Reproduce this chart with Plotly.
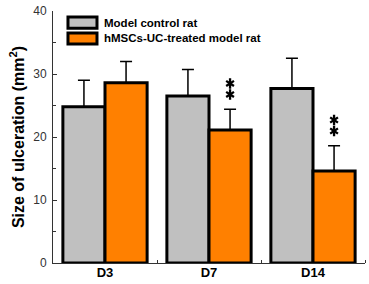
import plotly.graph_objects as go

categories = ["D3", "D7", "D14"]
control_vals = [24.8, 26.5, 27.7]
control_err = [4.2, 4.2, 4.8]
treated_vals = [28.6, 21.1, 14.6]
treated_err = [3.4, 3.3, 4.0]
significance = [0, 2, 2]  # number of asterisks above treated bar
series_names = ["Model control rat", "hMSCs-UC-treated model rat"]
y_ticks = [0, 10, 20, 30, 40]

GRAY = "#C0C0C0"
ORANGE = "#FF8000"
FONT = "Liberation Sans, Arial, sans-serif"
BARGAP = 0.19

pos = list(range(len(categories)))
fig = go.Figure()
for name, vals, err, color in [
    (series_names[0], control_vals, control_err, GRAY),
    (series_names[1], treated_vals, treated_err, ORANGE),
]:
    fig.add_trace(go.Bar(
        x=pos, y=vals, name=name, showlegend=False,
        marker=dict(color=color, line=dict(color="black", width=3)),
        error_y=dict(type="data", symmetric=False, array=err,
                     arrayminus=[0] * len(err), color="black",
                     thickness=1.5, width=6),
    ))

# significance asterisks above the treated bars (6-spoke: y-up + y-down)
offset = (1 - BARGAP) / 4
ax, ay = [], []
for i, n in enumerate(significance):
    top = treated_vals[i] + treated_err[i]
    for k in range(n):
        ax.append(i + offset)
        ay.append(top + 2.35 + 1.75 * k)
for sym in ["y-up-open", "y-down-open"]:
    fig.add_trace(go.Scatter(
        x=ax, y=ay, mode="markers", showlegend=False, hoverinfo="skip",
        marker=dict(symbol=sym, size=6.5, color="black",
                    line=dict(color="black", width=2.3)),
    ))

# legend (custom swatches)
legend_rows = [(0.954, GRAY), (0.891, ORANGE)]
for (yc, color), name in zip(legend_rows, series_names):
    fig.add_shape(type="rect", xref="paper", yref="paper",
                  x0=0.048, x1=0.141, y0=yc - 0.022, y1=yc + 0.022,
                  fillcolor=color, line=dict(color="black", width=3))
    fig.add_annotation(x=0.157, y=yc, xref="paper", yref="paper",
                       text=name, showarrow=False, xanchor="left",
                       yanchor="middle",
                       font=dict(family=FONT, size=11.5, color="black",
                                 weight="bold"))

fig.update_layout(
    width=369, height=284,
    margin=dict(l=53, r=4, t=11, b=21),
    paper_bgcolor="white", plot_bgcolor="white",
    barmode="group", bargap=BARGAP, bargroupgap=0,
    font=dict(family=FONT),
)
fig.update_xaxes(
    type="linear", range=[-0.5, 2.5], automargin=False,
    tickvals=pos, ticktext=categories, ticks="",
    minor=dict(tickvals=[p + 0.5 for p in pos], ticks="inside",
               ticklen=3, tickcolor="#333"),
    showline=True, linecolor="#333", linewidth=1,
    tickfont=dict(family=FONT, size=13, color="black", weight="bold"),
    ticklabelstandoff=-3,
    showgrid=False, zeroline=False,
)
fig.update_yaxes(
    range=[0, 40], tickvals=y_ticks, showline=True, linecolor="#333",
    linewidth=1, ticks="inside", ticklen=4, tickcolor="#333",
    minor=dict(dtick=5, ticks="inside", ticklen=3, tickcolor="#333"),
    tickfont=dict(family=FONT, size=12, color="#333"),
    automargin=False, ticklabelstandoff=3, ticklabeloverflow="allow",
    showgrid=False, zeroline=False,
    title=dict(text="Size of ulceration (mm<sup>2</sup>)", standoff=4,
               font=dict(family=FONT, size=16, color="black", weight="bold")),
)

# remove the page's default 8px body margin so the figure fills the window
fig.write_html("out.html", config={"displayModeBar": False},
               post_script="document.body.style.margin='0';")
